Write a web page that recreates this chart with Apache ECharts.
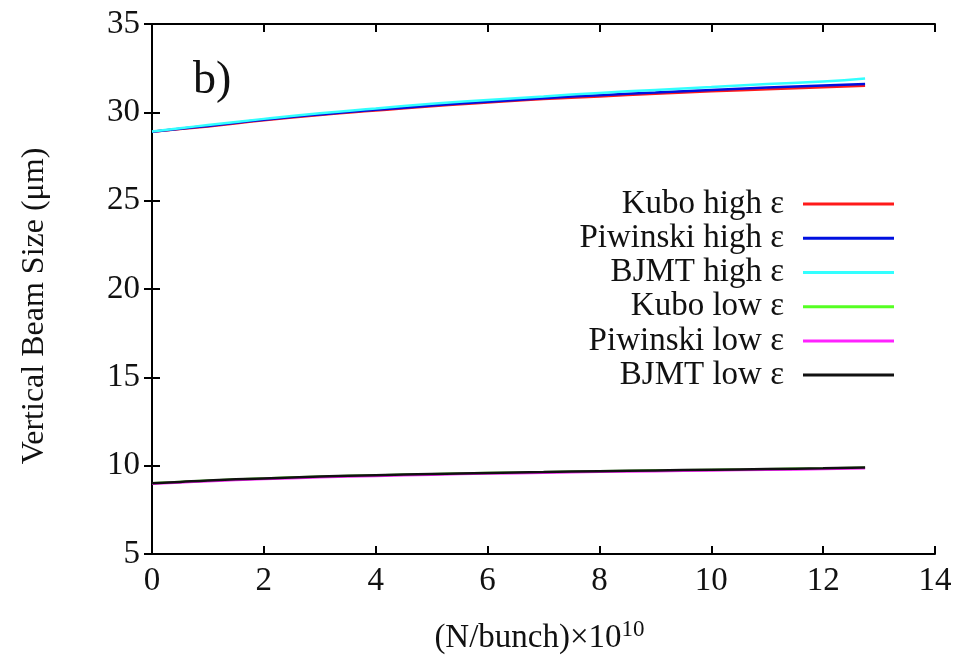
<!DOCTYPE html>
<html>
<head>
<meta charset="utf-8">
<script src="https://cdn.jsdelivr.net/npm/echarts@6/dist/echarts.min.js"></script>
<style>html,body{margin:0;padding:0;background:#fff}#c{width:961px;height:660px}</style>
</head>
<body>
<div id="c"></div>
<script>
const xValues = [0, 0.5, 1, 2, 3, 4, 5, 6, 7, 8, 9, 10, 11, 12, 12.75];
const kuboHigh = [28.9, 29.05, 29.2, 29.55, 29.85, 30.1, 30.35, 30.55, 30.75, 30.9, 31.05, 31.2, 31.3, 31.42, 31.5];
const piwinskiHigh = [28.9, 29.07, 29.23, 29.58, 29.88, 30.14, 30.38, 30.6, 30.8, 30.97, 31.12, 31.27, 31.4, 31.52, 31.6];
const bjmtHigh = [28.92, 29.1, 29.28, 29.63, 29.95, 30.22, 30.48, 30.7, 30.9, 31.1, 31.27, 31.43, 31.6, 31.75, 31.92];
const kuboLow = [9.0, 9.08, 9.15, 9.27, 9.37, 9.45, 9.52, 9.58, 9.63, 9.68, 9.72, 9.76, 9.8, 9.84, 9.88];
const piwinskiLow = [8.98, 9.05, 9.12, 9.24, 9.34, 9.42, 9.49, 9.55, 9.6, 9.65, 9.69, 9.73, 9.77, 9.81, 9.86];
const bjmtLow = [9.0, 9.08, 9.16, 9.28, 9.38, 9.46, 9.53, 9.59, 9.64, 9.69, 9.73, 9.77, 9.81, 9.85, 9.89];
const seriesNames = ['Kubo high ε', 'Piwinski high ε', 'BJMT high ε', 'Kubo low ε', 'Piwinski low ε', 'BJMT low ε'];
const seriesColors = ['#ff1a1a', '#0010e0', '#33ffff', '#55ff22', '#ff22ff', '#111111'];
const seriesValues = [kuboHigh, piwinskiHigh, bjmtHigh, kuboLow, piwinskiLow, bjmtLow];

const FONT = "'Liberation Serif', 'Times New Roman', 'DejaVu Serif', serif";
const chart = echarts.init(document.getElementById('c'), null, {renderer: 'canvas'});
const axisCommon = {
  axisLine: {show: true, lineStyle: {color: '#000', width: 2}},
  axisTick: {show: true, inside: true, length: 8, lineStyle: {color: '#000', width: 2}},
  splitLine: {show: false}
};
const option = {
  backgroundColor: '#fff',
  animation: false,
  title: {
    text: 'b)', left: 188, top: 53,
    textStyle: {fontFamily: FONT, fontSize: 46, fontWeight: 'normal', color: '#111'}
  },
  legend: {
    orient: 'vertical', right: 62, top: 182, align: 'right',
    itemWidth: 91, itemHeight: 3, itemGap: 0, icon: 'rect',
    textStyle: {fontFamily: FONT, fontSize: 33, color: '#111', lineHeight: 34.2, padding: [0, 14, 0, 0]},
    data: seriesNames
  },
  grid: {left: 152, right: 26, top: 24, bottom: 104, containLabel: false},
  xAxis: [
    Object.assign({
      type: 'value', min: 0, max: 14, interval: 2, position: 'bottom',
      name: '(N/bunch)×10{s|10}', nameLocation: 'middle', nameGap: 64,
      nameTextStyle: {fontFamily: FONT, fontSize: 33, color: '#111', padding: [0, 8, 0, 0], rich: {s: {fontFamily: FONT, fontSize: 23, color: '#111', verticalAlign: 'top', padding: [0, 0, 18, 0]}}},
      axisLabel: {fontFamily: FONT, fontSize: 33, color: '#111', margin: 11}
    }, axisCommon),
    Object.assign({
      type: 'value', min: 0, max: 14, interval: 2, position: 'top',
      axisLabel: {show: false}
    }, axisCommon)
  ],
  yAxis: [
    Object.assign({
      type: 'value', min: 5, max: 35, interval: 5, position: 'left',
      name: 'Vertical Beam Size (μm)', nameLocation: 'middle', nameGap: 101,
      nameTextStyle: {fontFamily: FONT, fontSize: 32, color: '#111', padding: [0, 34, 0, 0]},
      axisLabel: {fontFamily: FONT, fontSize: 33, color: '#111', margin: 12}
    }, axisCommon),
    Object.assign({
      type: 'value', min: 5, max: 35, interval: 5, position: 'right',
      axisLabel: {show: false}
    }, axisCommon)
  ],
  series: seriesNames.map((name, i) => ({
    name: name,
    type: 'line',
    xAxisIndex: 0, yAxisIndex: 0,
    showSymbol: false, symbol: 'none', smooth: true,
    color: seriesColors[i],
    lineStyle: {width: 2.5, color: seriesColors[i]},
    data: xValues.map((x, j) => [x, seriesValues[i][j]])
  }))
};
chart.setOption(option);
</script>
</body>
</html>
